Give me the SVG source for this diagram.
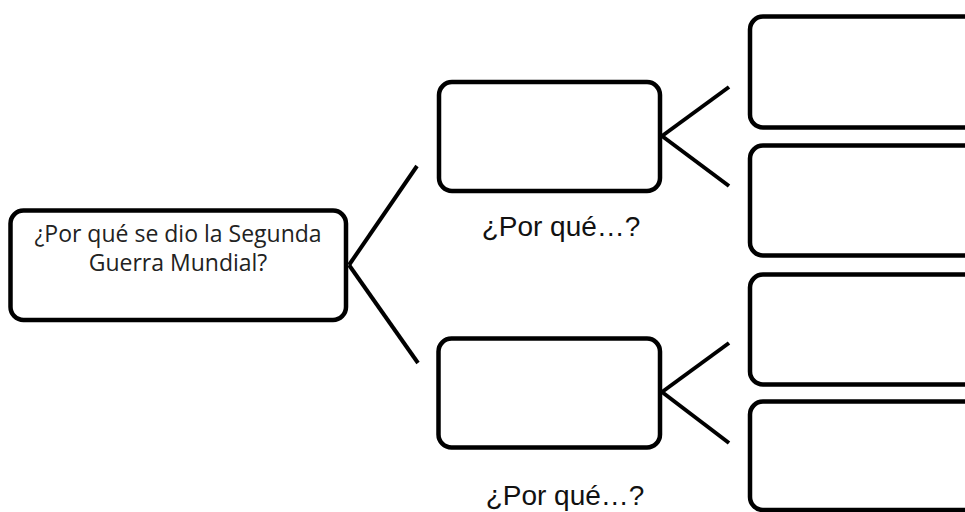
<svg xmlns="http://www.w3.org/2000/svg" width="965" height="512" viewBox="0 0 965 512">
<style>
.box{fill:#fff;stroke:#000;stroke-width:4.5}
.con{stroke:#000;stroke-width:4;fill:none}
.main{font-family:"Open Sans","Liberation Sans",sans-serif;font-size:23px;fill:#222;text-anchor:middle}
.lbl{font-family:"Liberation Sans",Arial,sans-serif;font-size:28px;fill:#111;text-anchor:middle}
</style>
<rect width="965" height="512" fill="#fff"/>
<g id="connectors">
<line class="con" x1="349" y1="265" x2="417" y2="166"/>
<line class="con" x1="349" y1="265" x2="418" y2="363"/>
<line class="con" x1="662" y1="136" x2="729" y2="87"/>
<line class="con" x1="662" y1="136" x2="729" y2="186"/>
<line class="con" x1="662" y1="392" x2="729" y2="343"/>
<line class="con" x1="662" y1="392" x2="729" y2="443"/>
</g>
<g id="root">
<rect class="box" x="10.5" y="210.5" width="335.5" height="109.5" rx="13"/>
<text class="main" x="178" y="242">¿Por qué se dio la Segunda</text>
<text class="main" x="178" y="271">Guerra Mundial?</text>
</g>
<g id="why1">
<rect class="box" x="439" y="82" width="221" height="109" rx="13"/>
<text class="lbl" x="561" y="236">¿Por qué…?</text>
</g>
<g id="why2">
<rect class="box" x="438.5" y="338.5" width="221.5" height="109" rx="13"/>
<text class="lbl" x="565" y="505">¿Por qué…?</text>
</g>
<g id="r1"><rect class="box" x="750" y="16.5" width="240" height="111" rx="13"/></g>
<g id="r2"><rect class="box" x="750" y="145.5" width="240" height="110" rx="13"/></g>
<g id="r3"><rect class="box" x="750" y="274.5" width="240" height="110" rx="13"/></g>
<g id="r4"><rect class="box" x="750" y="401.5" width="240" height="108.5" rx="13"/></g>
</svg>
